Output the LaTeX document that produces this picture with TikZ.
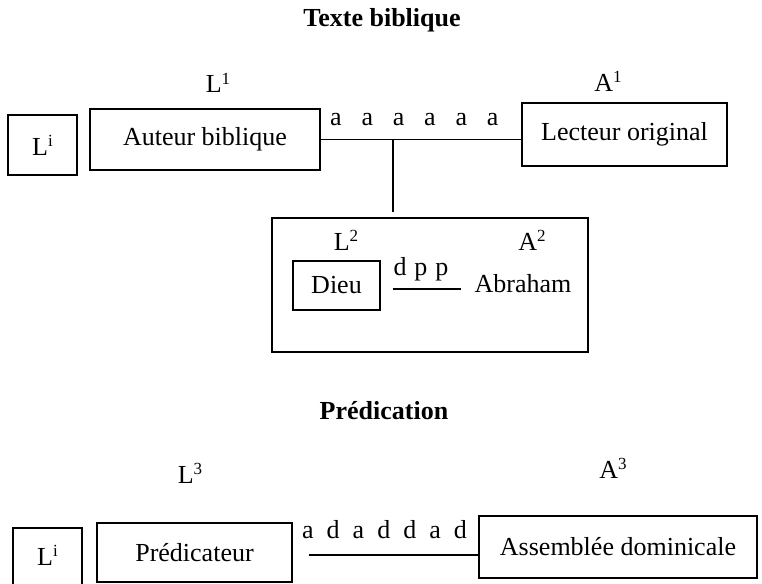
\documentclass[tikz,border=0pt]{standalone}
\usepackage{fontspec}
\setmainfont{Liberation Serif}
% raised index used in the L/A labels
\newcommand\idx[1]{\raisebox{9pt}{\fontsize{17}{20}\selectfont #1}}
\begin{document}
\begin{tikzpicture}[x=1pt,y=-1pt,
  every node/.style={font=\fontsize{26}{30}\selectfont, inner sep=0pt},
  box/.style={draw, line width=1.1pt, anchor=center, align=center},
  lbl/.style={anchor=base},
  title/.style={anchor=base, font=\fontsize{26}{30}\selectfont\bfseries},
  rule/.style={line width=1.1pt}]
\useasboundingbox[fill=white] (0,0) rectangle (762,583);

% ---------- Texte biblique ----------
\node[title] (t1) at (382,27) {Texte biblique};
\node[lbl] (l1) at (218,93) {L\idx{1}};
\node[lbl] (a1) at (608,92) {A\idx{1}};

\node[box, minimum width=69, minimum height=60] (li) at (42.5,145) {L\idx{i}};
\node[box, minimum width=230, minimum height=61] (auteur) at (205,139.5) {Auteur biblique};
\node[box, minimum width=205, minimum height=63] (lecteur) at (624.5,134.5) {Lecteur original};

\draw[rule] (auteur.east) -- (auteur.east -| lecteur.west);
\node[lbl, anchor=base west] (aaa) at (330,125)
  {a\hspace{19.8pt}a\hspace{19.8pt}a\hspace{19.8pt}a\hspace{19.8pt}a\hspace{19.8pt}a};

% embedded dialogue
\node[box, minimum width=316, minimum height=134] (inner) at (430,285) {};
\coordinate (junction) at (393,139.5);
\draw[rule] (junction) -- ([yshift=5pt]junction |- inner.north);

\node[lbl] (l2) at (346,250) {L\idx{2}};
\node[lbl] (a2) at (532,250) {A\idx{2}};
\node[box, minimum width=87, minimum height=49] (dieu) at (336.5,285.5) {Dieu};
\node[lbl] (abraham) at (523,292) {Abraham};
\node[lbl] (dpp) at (421,275) {d\hspace{8pt}p\hspace{8pt}p};
\draw[rule] ([xshift=12pt,yshift=-3.5pt]dieu.east) -- ([yshift=-3.5pt]dieu.east -| abraham.west)
  [shorten >=13pt];

% ---------- Prédication ----------
\node[title] (t2) at (384,419) {Prédication};
\node[lbl] (l3) at (190,483) {L\idx{3}};
\node[lbl] (a3) at (613,478) {A\idx{3}};

\node[box, minimum width=69, minimum height=70] (li2) at (47.5,563) {};
\node at (47.5,555) {L\idx{i}};
\node[box, minimum width=195, minimum height=59] (pred) at (194.5,552.5) {Prédicateur};
\node[box, minimum width=278, minimum height=62] (assemb) at (618,547) {Assemblée dominicale};

\node[lbl, anchor=base west] (adad) at (302,538)
  {a\hspace{13pt}d\hspace{13pt}a\hspace{13pt}d\hspace{13pt}d\hspace{13pt}a\hspace{13pt}d};
\draw[rule] ([xshift=16pt,yshift=-2.5pt]pred.east) -- ([yshift=-2.5pt]pred.east -| assemb.west);
\end{tikzpicture}
\end{document}
